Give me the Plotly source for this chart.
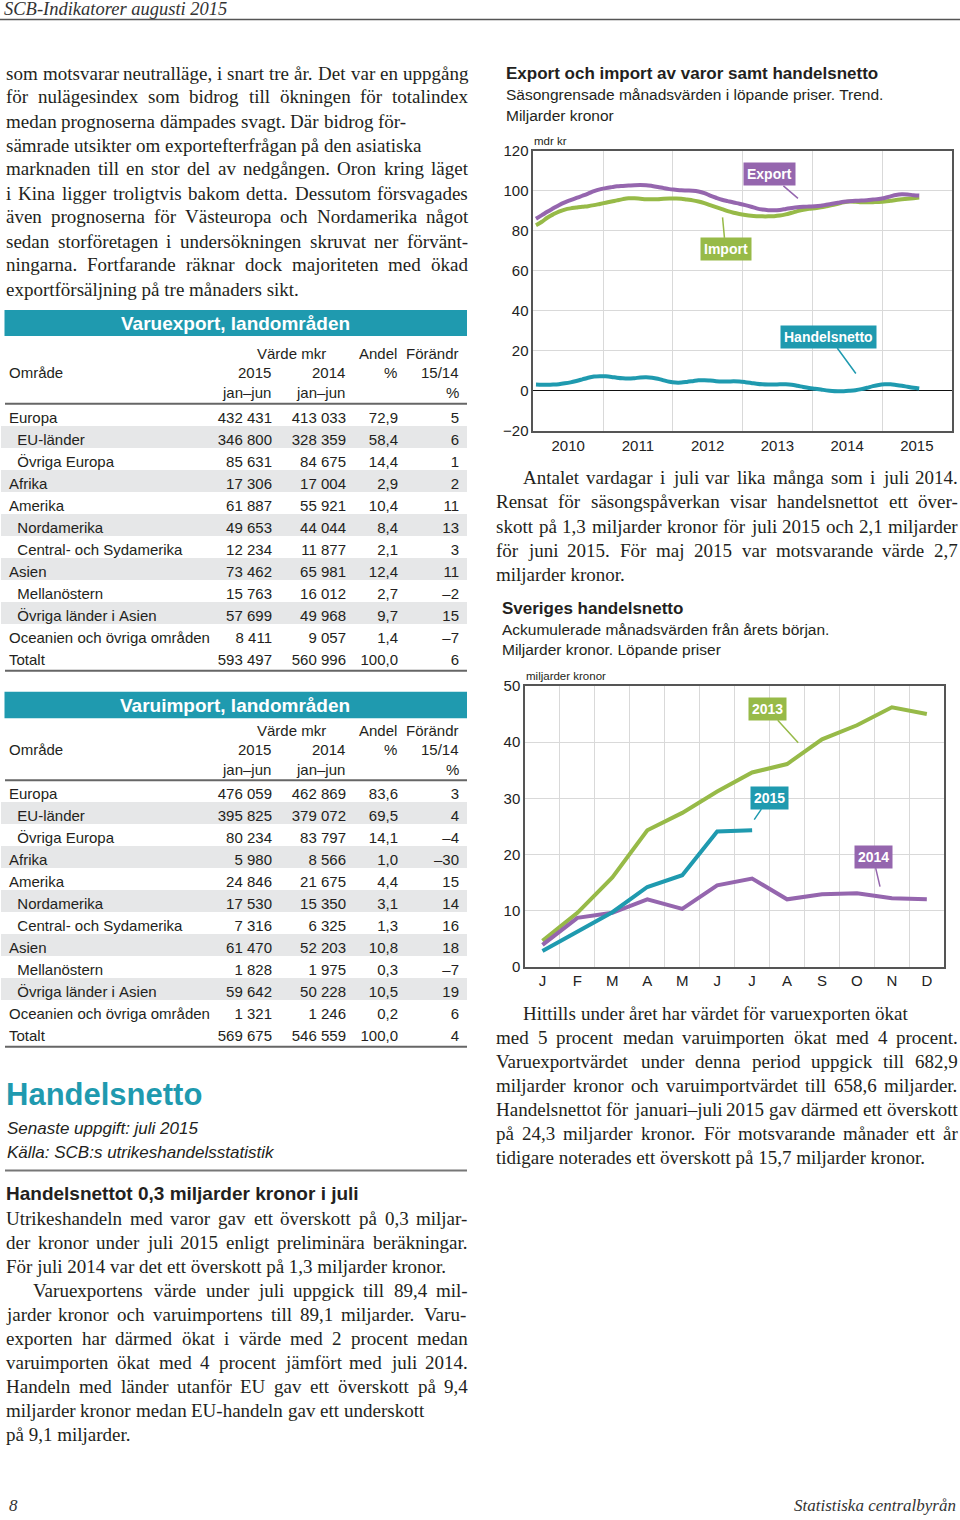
import plotly.graph_objects as go
import pandas as pd

W, H = 960, 1520
def X(p): return p / W
def Y(p): return 1 - p / H

SANS = "Liberation Sans, Arial, sans-serif"
SERIF = "Liberation Serif, Times New Roman, serif"
INK = "#231F20"
PURPLE = "#9566AE"
GREEN = "#97BA48"
TEAL = "#1F9AAF"
GRID = "#D9D9D9"
FRAME = "#555555"
SHADE = "#E6E7E8"

# ---------------- Chart 1: export / import / handelsnetto (trend, mdr kr) -------------
months1 = [d.strftime("%Y-%m-%d") for d in
           (pd.date_range("2010-01-01", "2015-07-01", freq="MS") + pd.Timedelta(days=14))]
export_trend = [
    86.0, 87.8, 89.5, 91.2, 92.8, 94.2, 95.3, 96.4, 97.5, 98.6, 99.8, 100.7,
    101.3, 101.8, 102.2, 102.4, 102.6, 102.8, 102.9, 102.8, 102.4, 101.9, 101.3, 100.8,
    100.5, 100.2, 100.1, 100.0, 99.6, 98.8, 97.6, 96.5, 95.5, 94.8, 94.1, 93.5,
    92.8, 92.0, 91.2, 90.6, 90.3, 90.2, 90.4, 90.9, 91.4, 91.8, 92.0, 92.1,
    92.2, 92.5, 93.0, 93.5, 94.0, 94.5, 94.8, 95.0, 95.1, 95.3, 95.6, 95.9,
    96.4, 97.2, 97.9, 98.2, 98.1, 97.8, 97.6]
import_trend = [
    82.8, 84.5, 86.5, 88.2, 89.6, 90.6, 91.2, 91.6, 92.0, 92.3, 92.8, 93.4,
    94.0, 94.6, 95.2, 95.8, 96.2, 96.2, 96.0, 95.8, 95.7, 95.8, 96.0, 96.1,
    96.1, 96.0, 95.6, 95.2, 94.6, 93.8, 92.8, 91.8, 90.8, 89.8, 89.0, 88.4,
    87.9, 87.5, 87.3, 87.2, 87.2, 87.3, 87.6, 88.2, 89.0, 89.8, 90.5, 91.0,
    91.3, 91.7, 92.2, 92.8, 93.5, 94.2, 94.6, 94.5, 94.3, 94.2, 94.3, 94.4,
    94.6, 95.0, 95.4, 95.7, 96.0, 96.3, 96.6]
netto_trend = [
    3.2, 3.1, 3.1, 3.2, 3.4, 3.8, 4.3, 5.0, 5.8, 6.6, 7.2, 7.4,
    7.3, 7.0, 6.6, 6.3, 6.2, 6.4, 6.7, 6.8, 6.6, 6.1, 5.3, 4.6,
    4.2, 4.2, 4.5, 4.9, 5.3, 5.4, 5.2, 4.9, 4.7, 4.7, 4.8, 4.7,
    4.4, 4.0, 3.6, 3.3, 3.2, 3.2, 3.3, 3.3, 3.1, 2.6, 2.0, 1.5,
    1.1, 0.7, 0.3, 0.0, -0.1, -0.1, 0.1, 0.4, 0.9, 1.6, 2.4, 3.0,
    3.3, 3.3, 3.0, 2.6, 2.1, 1.6, 1.2]

# ---------------- Chart 2: accumulated trade balance ---------------------------------
month_labels = ["J", "F", "M", "A", "M", "J", "J", "A", "S", "O", "N", "D"]
netto_2013 = [4.6, 9.6, 15.9, 24.3, 27.4, 31.2, 34.6, 36.1, 40.5, 43.0, 46.2, 45.0]
netto_2014 = [3.9, 8.7, 9.6, 12.0, 10.3, 14.5, 15.7, 12.0, 12.9, 13.1, 12.2, 12.0]
netto_2015 = [2.8, 6.2, 9.7, 14.2, 16.3, 24.1, 24.3]

# ---------------- Tables ----------------------------------------------------------
regions = ["Europa", "EU-länder", "Övriga Europa", "Afrika", "Amerika", "Nordamerika",
           "Central- och Sydamerika", "Asien", "Mellanöstern", "Övriga länder i Asien",
           "Oceanien och övriga områden", "Totalt"]
region_indent = [0, 1, 1, 0, 0, 1, 1, 0, 1, 1, 0, 0]
row_shaded = [0, 1, 0, 1, 0, 1, 0, 1, 0, 1, 0, 0]

export_2015 = [432431, 346800, 85631, 17306, 61887, 49653, 12234, 73462, 15763, 57699, 8411, 593497]
export_2014 = [413033, 328359, 84675, 17004, 55921, 44044, 11877, 65981, 16012, 49968, 9057, 560996]
export_share = [72.9, 58.4, 14.4, 2.9, 10.4, 8.4, 2.1, 12.4, 2.7, 9.7, 1.4, 100.0]
export_change = [5, 6, 1, 2, 11, 13, 3, 11, -2, 15, -7, 6]

import_2015 = [476059, 395825, 80234, 5980, 24846, 17530, 7316, 61470, 1828, 59642, 1321, 569675]
import_2014 = [462869, 379072, 83797, 8566, 21675, 15350, 6325, 52203, 1975, 50228, 1246, 546559]
import_share = [83.6, 69.5, 14.1, 1.0, 4.4, 3.1, 1.3, 10.8, 0.3, 10.5, 0.2, 100.0]
import_change = [3, 4, -4, -30, 15, 14, 16, 18, -7, 19, 6, 4]

# ---------------- Body text ---------------------------------------------------------
text_left_top = [
    "som motsvarar neutralläge, i snart tre år. Det var en uppgång",
    "för nulägesindex som bidrog till ökningen för totalindex",
    "medan prognoserna dämpades svagt. Där bidrog för-",
    "sämrade utsikter om exportefterfrågan på den asiatiska",
    "marknaden till en stor del av nedgången. Oron kring läget",
    "i Kina ligger troligtvis bakom detta. Dessutom försvagades",
    "även prognoserna för Västeuropa och Nordamerika något",
    "sedan storföretagen i undersökningen skruvat ner förvänt-",
    "ningarna. Fortfarande räknar dock majoriteten med ökad",
    "exportförsäljning på tre månaders sikt.",
]
text_right_1 = [
    "Antalet vardagar i juli var lika många som i juli 2014.",
    "Rensat för säsongspåverkan visar handelsnettot ett över-",
    "skott på 1,3 miljarder kronor för juli 2015 och 2,1 miljarder",
    "för juni 2015. För maj 2015 var motsvarande värde 2,7",
    "miljarder kronor.",
]
text_right_2 = [
    "Hittills under året har värdet för varuexporten ökat",
    "med 5 procent medan varuimporten ökat med 4 procent.",
    "Varuexportvärdet under denna period uppgick till 682,9",
    "miljarder kronor och varuimportvärdet till 658,6 miljarder.",
    "Handelsnettot för januari–juli 2015 gav därmed ett överskott",
    "på 24,3 miljarder kronor. För motsvarande månader ett år",
    "tidigare noterades ett överskott på 15,7 miljarder kronor.",
]
text_left_bottom = [
    "Utrikeshandeln med varor gav ett överskott på 0,3 miljar-",
    "der kronor under juli 2015 enligt preliminära beräkningar.",
    "För juli 2014 var det ett överskott på 1,3 miljarder kronor.",
    "Varuexportens värde under juli uppgick till 89,4 mil-",
    "jarder kronor och varuimportens till 89,1 miljarder. Varu-",
    "exporten har därmed ökat i värde med 2 procent medan",
    "varuimporten ökat med 4 procent jämfört med juli 2014.",
    "Handeln med länder utanför EU gav ett överskott på 9,4",
    "miljarder kronor medan EU-handeln gav ett underskott",
    "på 9,1 miljarder.",
]

fig = go.Figure()

# ---- chart 1 traces
fig.add_trace(go.Scatter(x=months1, y=import_trend, mode="lines", name="Import",
                         line=dict(color=GREEN, width=4, shape="spline"), xaxis="x", yaxis="y"))
fig.add_trace(go.Scatter(x=months1, y=export_trend, mode="lines", name="Export",
                         line=dict(color=PURPLE, width=4, shape="spline"), xaxis="x", yaxis="y"))
fig.add_trace(go.Scatter(x=months1, y=netto_trend, mode="lines", name="Handelsnetto",
                         line=dict(color=TEAL, width=4, shape="spline"), xaxis="x", yaxis="y"))

# ---- chart 2 traces
fig.add_trace(go.Scatter(x=list(range(12)), y=netto_2013, mode="lines", name="2013",
                         line=dict(color=GREEN, width=4), xaxis="x2", yaxis="y2"))
fig.add_trace(go.Scatter(x=list(range(12)), y=netto_2014, mode="lines", name="2014",
                         line=dict(color=PURPLE, width=4), xaxis="x2", yaxis="y2"))
fig.add_trace(go.Scatter(x=list(range(len(netto_2015))), y=netto_2015, mode="lines", name="2015",
                         line=dict(color=TEAL, width=4), xaxis="x2", yaxis="y2"))

# ---- tables (body rows through go.Table; empty header takes 16 px)
NB = "\u00a0"
TFONT = 15
def fmt_int(v):
    return f"{v:,}".replace(",", NB)

def fmt_dec(v):
    return f"{v:.1f}".replace(".", ",")

def fmt_chg(v):
    return ("–" + str(-v)) if v < 0 else str(v)

EMPTY_HDR = 16
ROW_H = 22
def add_table(v15, v14, share, chg, rows_top):
    names = [(NB * 2 if ind else "") + r.replace(" ", NB) for r, ind in zip(regions, region_indent)]
    fills = [SHADE if s else "white" for s in row_shaded]
    top = rows_top - EMPTY_HDR
    bottom = rows_top + ROW_H * len(regions)
    fig.add_trace(go.Table(
        domain=dict(x=[X(1), X(467)], y=[Y(bottom), Y(top)]),
        columnwidth=[216, 63, 74, 52, 61],
        header=dict(fill_color="white", line=dict(width=0, color="white")),
        cells=dict(values=[names, [fmt_int(v) for v in v15], [fmt_int(v) for v in v14],
                           [fmt_dec(v) for v in share], [fmt_chg(v) for v in chg]],
                   align=["left", "right", "right", "right", "right"],
                   fill_color=[fills] * 5,
                   line=dict(width=0, color="white"),
                   height=ROW_H,
                   font=dict(family=SANS, size=TFONT, color=INK)),
    ))

add_table(export_2015, export_2014, export_share, export_change, 403.5)
add_table(import_2015, import_2014, import_share, import_change, 780.0)

annotations = []
shapes = []

def txt(x, y, s, size, family=SANS, color=INK, xanchor="left", weight=None, italic=False):
    t = s
    if weight == "bold":
        t = "<b>" + t + "</b>"
    if italic:
        t = "<i>" + t + "</i>"
    annotations.append(dict(x=X(x), y=Y(y), xref="paper", yref="paper", text=t,
                            showarrow=False, xanchor=xanchor, yanchor="middle",
                            borderpad=0,
                            font=dict(family=family, size=size, color=color)))

def hline(x0, x1, y, color="#666666", width=2):
    shapes.append(dict(type="line", xref="paper", yref="paper", x0=X(x0), x1=X(x1),
                       y0=Y(y), y1=Y(y), line=dict(color=color, width=width)))

# --- justified serif paragraphs (Times / Liberation Serif advance widths, 1/1000 em)
TW = {" ": 250, ",": 250, ".": 250, "-": 333, "–": 500, ":": 278, ";": 278, "!": 333,
      "?": 444, "(": 333, ")": 333, "%": 833}
for ch in "0123456789":
    TW[ch] = 500
TW.update(dict(A=722, B=667, C=667, D=722, E=611, F=556, G=722, H=722, I=333, J=389,
               K=722, L=611, M=889, N=722, O=722, P=556, Q=722, R=667, S=556, T=611,
               U=722, V=722, W=944, X=722, Y=722, Z=611))
TW.update(dict(a=444, b=500, c=444, d=500, e=444, f=333, g=500, h=500, i=278, j=278,
               k=500, l=278, m=778, n=500, o=500, p=500, q=500, r=333, s=389, t=278,
               u=500, v=500, w=722, x=500, y=500, z=444))
TW.update({"å": 444, "ä": 444, "ö": 500, "Å": 722, "Ä": 722, "Ö": 722, "é": 444})

def wwidth(word, size):
    return sum(TW.get(c, 500) for c in word) * size / 1000.0

BODY = 19
def paragraph(lines, x0, x1, y0, indent_lines=(), indent=27, ragged=()):
    for i, line in enumerate(lines):
        xs = x0 + (indent if i in indent_lines else 0)
        y = y0 + 24 * i
        words = line.split(" ")
        if i in ragged or len(words) < 2:
            txt(xs, y, line, BODY, family=SERIF)
            continue
        total = sum(wwidth(w, BODY) for w in words)
        gap = (x1 - xs - total) / (len(words) - 1)
        gap = max(gap, 0.15 * BODY)
        if gap > 0.6 * BODY:
            gap = TW[" "] * BODY / 1000.0
        x = xs
        for w in words:
            txt(x, y, w, BODY, family=SERIF)
            x += wwidth(w, BODY) + gap

paragraph(text_left_top, 5, 467, 73, ragged=(9,))
paragraph(text_left_bottom, 5, 467, 1218, indent_lines=(3,), ragged=(2, 9))
paragraph(text_right_1, 495, 957, 478, indent_lines=(0,), ragged=(4,))
paragraph(text_right_2, 495, 957, 1013, indent_lines=(0,), ragged=(6,))

# header / footer
txt(3, 9.5, "SCB-Indikatorer augusti 2015", 18.5, family=SERIF, color="#333", italic=True)
hline(0, 960, 19.5, color="#555", width=1.5)
txt(8, 1505, "8", 17, family=SERIF, color="#333", italic=True)
txt(957, 1505, "Statistiska centralbyrån", 17, family=SERIF, color="#333", italic=True, xanchor="right")

# table headers
def table_header(bar_top, bar_bot, title, y1, y2, y3, sep, bottom):
    shapes.append(dict(type="rect", xref="paper", yref="paper", x0=X(4.5), x1=X(467),
                       y0=Y(bar_bot), y1=Y(bar_top), fillcolor=TEAL, line=dict(width=0)))
    txt(235, (bar_top + bar_bot) / 2, title, 19, color="white", xanchor="center", weight="bold")
    txt(291, y1, "Värde mkr", TFONT, xanchor="center")
    txt(398, y1, "Andel", TFONT, xanchor="right")
    txt(460, y1, "Förändr", TFONT, xanchor="right")
    txt(8, y2, "Område", TFONT)
    txt(272, y2, "2015", TFONT, xanchor="right")
    txt(346, y2, "2014", TFONT, xanchor="right")
    txt(398, y2, "%", TFONT, xanchor="right")
    txt(460, y2, "15/14", TFONT, xanchor="right")
    txt(272, y3, "jan–jun", TFONT, xanchor="right")
    txt(346, y3, "jan–jun", TFONT, xanchor="right")
    txt(460, y3, "%", TFONT, xanchor="right")
    hline(5, 467, sep, width=2)
    hline(5, 467, bottom, width=2)

table_header(310, 336, "Varuexport, landområden", 353.3, 372.7, 392, 403.8, 670.7)
table_header(691.7, 718.3, "Varuimport, landområden", 730, 749, 769, 780.3, 1046.7)

txt(5, 1094, "Handelsnetto", 31, color=TEAL, weight="bold")
txt(6, 1128, "Senaste uppgift: juli 2015", 17, italic=True)
txt(6, 1152, "Källa: SCB:s utrikeshandelsstatistik", 17, italic=True)
hline(5, 467, 1170.5, color="#777", width=2)
txt(5, 1193, "Handelsnettot 0,3 miljarder kronor i juli", 19, weight="bold")

# chart titles
txt(505, 73, "Export och import av varor samt handelsnetto", 17, weight="bold")
txt(505, 94, "Säsongrensade månadsvärden i löpande priser. Trend.", 15.5)
txt(505, 115, "Miljarder kronor", 15.5)
txt(533, 141, "mdr kr", 11.5)

txt(501, 608, "Sveriges handelsnetto", 17, weight="bold")
txt(501, 629, "Ackumulerade månadsvärden från årets början.", 15.5)
txt(501, 650, "Miljarder kronor. Löpande priser", 15.5)
txt(525, 676, "miljarder kronor", 11.5)

# callout labels
def callout(xref, yref, x, y, ax, ay, label, color):
    annotations.append(dict(x=x, y=y, xref=xref, yref=yref, ax=ax, ay=ay,
                            text="<b>" + label + "</b>", showarrow=True, arrowhead=0,
                            arrowwidth=1.5, arrowcolor=color, bgcolor=color, borderpad=3,
                            font=dict(family=SANS, size=14, color="white")))

callout("x", "y", "2013-10-18", 96.2, -28, -24, "Export", PURPLE)
callout("x", "y", "2012-09-18", 86.7, 3, 32, "Import", GREEN)
callout("x", "y", "2014-08-17", 8.7, -27, -37, "Handelsnetto", TEAL)
callout("x2", "y2", 7.32, 39.9, -31, -34, "2013", GREEN)
callout("x2", "y2", 6.06, 26.2, 15, -22, "2015", TEAL)
callout("x2", "y2", 9.66, 14.25, -7, -30, "2014", PURPLE)

axis_font = dict(family=SANS, size=15, color="#222")
fig.update_layout(
    template="none",
    width=W, height=H, margin=dict(l=0, r=0, t=0, b=0, pad=0, autoexpand=False),
    paper_bgcolor="white", plot_bgcolor="white", showlegend=False,
    font=dict(family=SANS, color=INK),
    xaxis=dict(domain=[X(533.3), X(951.7)], anchor="y", type="date", automargin=False,
               range=["2010-01-01", "2016-01-01"], dtick="M12", tick0="2010-01-01",
               tickformat="%Y", ticklabelmode="period", showgrid=True, gridcolor=GRID,
               gridwidth=1, showline=True, mirror=True, linecolor=FRAME, linewidth=1.5,
               ticks="", tickfont=axis_font, zeroline=False),
    yaxis=dict(domain=[Y(431), Y(150.7)], anchor="x", range=[-20, 120], dtick=20,
               automargin=False,
               showgrid=True, gridcolor=GRID, zeroline=True, zerolinecolor="#111",
               zerolinewidth=1.2, showline=True, mirror=True, linecolor=FRAME,
               linewidth=1.5, ticks="", tickfont=axis_font),
    xaxis2=dict(domain=[X(525), X(944.3)], anchor="y2", range=[-0.5, 11.5],
                automargin=False,
                tickvals=list(range(12)), ticktext=month_labels, showgrid=False,
                minor=dict(tickvals=[i + 0.5 for i in range(11)], showgrid=True,
                           gridcolor=GRID, ticks=""),
                showline=True, mirror=True, linecolor=FRAME, linewidth=1.5,
                ticks="", tickfont=axis_font, zeroline=False),
    yaxis2=dict(domain=[Y(966.7), Y(686)], anchor="x2", range=[0, 50], dtick=10,
                automargin=False,
                showgrid=True, gridcolor=GRID, zeroline=False, showline=True,
                mirror=True, linecolor=FRAME, linewidth=1.5, ticks="", tickfont=axis_font),
    annotations=annotations, shapes=shapes,
)

fig.write_html("out.html", config={"displayModeBar": False},
               post_script="document.body.style.margin = '0px';")
